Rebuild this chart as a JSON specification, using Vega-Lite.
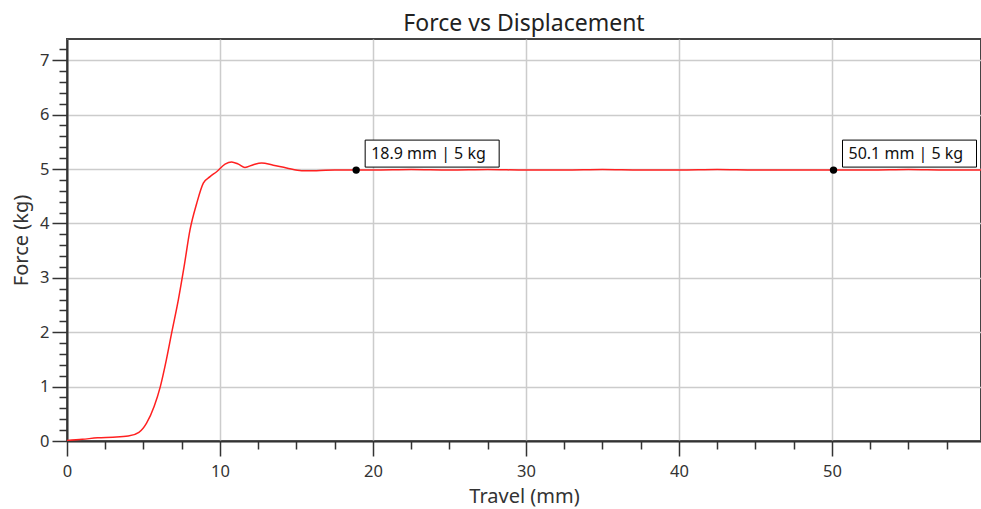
{
  "$schema": "https://vega.github.io/schema/vega-lite/v6.json",
  "autosize": {"type": "none"},
  "padding": {"left": 67, "top": 39, "right": 0, "bottom": 68},
  "width": 914,
  "height": 402,
  "background": "white",
  "title": {"text": "Force vs Displacement", "fontSize": 23, "font": "Noto Sans", "fontWeight": "normal", "color": "#222222", "offset": 3, "anchor": "middle", "frame": "group"},
  "config": {
    "view": {"stroke": "#444444", "strokeWidth": 2},
    "font": "Noto Sans"
  },
  "datasets": {
    "curve": [
      {"t": 0, "f": 0.01}, {"t": 1, "f": 0.03}, {"t": 2, "f": 0.06}, {"t": 3, "f": 0.07},
      {"t": 4, "f": 0.09}, {"t": 4.7, "f": 0.16}, {"t": 5.2, "f": 0.33}, {"t": 5.7, "f": 0.64},
      {"t": 6.1, "f": 1.0}, {"t": 6.5, "f": 1.5}, {"t": 6.85, "f": 2.0}, {"t": 7.28, "f": 2.6},
      {"t": 7.65, "f": 3.2}, {"t": 8.04, "f": 3.88}, {"t": 8.48, "f": 4.37}, {"t": 8.91, "f": 4.74},
      {"t": 9.35, "f": 4.86}, {"t": 9.78, "f": 4.95}, {"t": 10.33, "f": 5.09}, {"t": 10.76, "f": 5.13},
      {"t": 11.2, "f": 5.09}, {"t": 11.63, "f": 5.03}, {"t": 12.18, "f": 5.08}, {"t": 12.72, "f": 5.11},
      {"t": 13.48, "f": 5.07}, {"t": 14.35, "f": 5.02}, {"t": 15.34, "f": 4.97}, {"t": 16.3, "f": 4.97},
      {"t": 17.5, "f": 4.98}, {"t": 18.9, "f": 4.98}, {"t": 20, "f": 4.98}, {"t": 22.5, "f": 4.99},
      {"t": 25, "f": 4.98}, {"t": 27.5, "f": 4.99}, {"t": 30, "f": 4.98}, {"t": 32.5, "f": 4.98},
      {"t": 35, "f": 4.99}, {"t": 37.5, "f": 4.98}, {"t": 40, "f": 4.98}, {"t": 42.5, "f": 4.99},
      {"t": 45, "f": 4.98}, {"t": 47.5, "f": 4.98}, {"t": 50.1, "f": 4.98}, {"t": 52.5, "f": 4.98},
      {"t": 55, "f": 4.99}, {"t": 57.5, "f": 4.98}, {"t": 59.74, "f": 4.98}
    ],
    "marks": [
      {"t": 18.9, "f": 4.98, "label": "18.9 mm | 5 kg"},
      {"t": 50.1, "f": 4.98, "label": "50.1 mm | 5 kg"}
    ]
  },
  "layer": [
    {
      "data": {"name": "curve"},
      "mark": {"type": "line", "color": "#ff2020", "strokeWidth": 1.5, "interpolate": "monotone", "clip": true},
      "encoding": {
        "x": {
          "field": "t", "type": "quantitative",
          "scale": {"domain": [0, 59.74], "nice": false, "zero": false},
          "axis": {
            "title": "Travel (mm)",
            "values": [0, 2.5, 5, 7.5, 10, 12.5, 15, 17.5, 20, 22.5, 25, 27.5, 30, 32.5, 35, 37.5, 40, 42.5, 45, 47.5, 50, 52.5, 55, 57.5],
            "tickCount": 200,
            "format": "~g",
            "labelExpr": "datum.value % 10 === 0 ? datum.label : ''",
            "tickSize": {"condition": {"test": "datum.value % 10 === 0", "value": 15}, "value": 8},
            "gridOpacity": {"condition": {"test": "datum.value % 10 === 0", "value": 1}, "value": 0},
            "gridColor": "#cccccc", "gridWidth": 1.5,
            "domainColor": "#333333", "domainWidth": 2,
            "tickColor": "#333333", "tickWidth": 1.5,
            "labelFontSize": 16.5, "labelColor": "#333333", "labelPadding": 7,
            "labelFlush": false, "labelOverlap": false, "labelBound": false,
            "titleFontSize": 20, "titleFontWeight": "normal", "titleColor": "#333333", "titlePadding": 7
          }
        },
        "y": {
          "field": "f", "type": "quantitative",
          "scale": {"domain": [0, 7.39], "nice": false, "zero": false},
          "axis": {
            "title": "Force (kg)",
            "values": [0, 0.2, 0.4, 0.6, 0.8, 1, 1.2, 1.4, 1.6, 1.8, 2, 2.2, 2.4, 2.6, 2.8, 3, 3.2, 3.4, 3.6, 3.8, 4, 4.2, 4.4, 4.6, 4.8, 5, 5.2, 5.4, 5.6, 5.8, 6, 6.2, 6.4, 6.6, 6.8, 7, 7.2],
            "tickCount": 200,
            "format": "~g",
            "labelExpr": "abs(datum.value - round(datum.value)) < 0.001 ? datum.label : ''",
            "tickSize": {"condition": {"test": "abs(datum.value - round(datum.value)) < 0.001", "value": 15}, "value": 8},
            "gridOpacity": {"condition": {"test": "abs(datum.value - round(datum.value)) < 0.001", "value": 1}, "value": 0},
            "gridColor": "#cccccc", "gridWidth": 1.5,
            "domainColor": "#333333", "domainWidth": 2,
            "tickColor": "#333333", "tickWidth": 1.5,
            "labelFontSize": 16.5, "labelColor": "#333333", "labelPadding": 3,
            "labelOverlap": false, "labelBound": false, "labelFlush": false,
            "titleFontSize": 20, "titleFontWeight": "normal", "titleColor": "#333333", "titlePadding": 8
          }
        }
      }
    },
    {
      "data": {"name": "marks"},
      "mark": {"type": "point", "filled": true, "color": "black", "size": 55, "opacity": 1},
      "encoding": {
        "x": {"field": "t", "type": "quantitative"},
        "y": {"field": "f", "type": "quantitative"}
      }
    },
    {
      "data": {"name": "marks"},
      "mark": {"type": "rect", "fill": "white", "stroke": "black", "strokeWidth": 1, "xOffset": 9, "x2Offset": 143, "yOffset": -30, "y2Offset": -3},
      "encoding": {
        "x": {"field": "t", "type": "quantitative"},
        "x2": {"field": "t"},
        "y": {"field": "f", "type": "quantitative"},
        "y2": {"field": "f"}
      }
    },
    {
      "data": {"name": "marks"},
      "mark": {"type": "text", "align": "left", "baseline": "middle", "dx": 15, "dy": -16, "fontSize": 16, "color": "#111111"},
      "encoding": {
        "x": {"field": "t", "type": "quantitative"},
        "y": {"field": "f", "type": "quantitative"},
        "text": {"field": "label"}
      }
    }
  ]
}
